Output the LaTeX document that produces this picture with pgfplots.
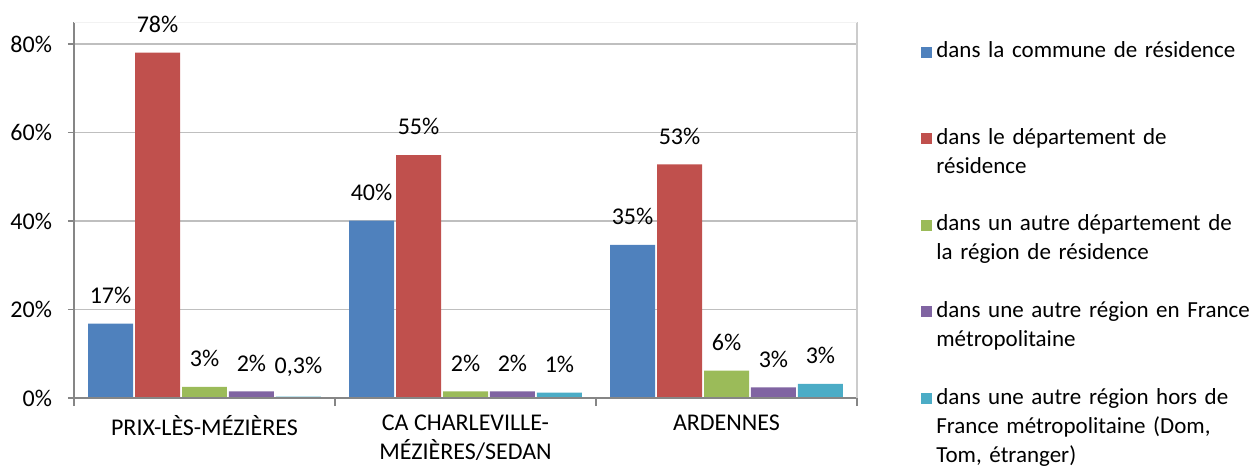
\documentclass[border=0pt]{standalone}
\usepackage{pgfplots}
\pgfplotsset{compat=1.18}
\usepackage{fontspec}
\setmainfont{Carlito}

\definecolor{cBlue}{HTML}{4F81BD}
\definecolor{cRed}{HTML}{C0504D}
\definecolor{cGreen}{HTML}{9BBB59}
\definecolor{cPurple}{HTML}{8064A2}
\definecolor{cCyan}{HTML}{4BACC6}
\definecolor{axisgray}{HTML}{868686}
\definecolor{gridgray}{HTML}{BFBFBF}

\newcommand{\ls}{\rule{0pt}{11pt}}

\begin{document}
\begin{tikzpicture}
\path[use as bounding box] (-37pt,-34.5pt) rectangle (591pt,199pt);
\begin{axis}[
    at={(0,0)}, anchor=south west,
    scale only axis,
    width=391.5pt, height=188pt,
    ybar, bar width=0.1724,
    xmin=-0.5, xmax=2.5,
    ymin=0, ymax=85,
    xtick={0,1,2},
    xticklabels={PRIX-LÈS-MÉZIÈRES, {CA CHARLEVILLE-\\MÉZIÈRES/SEDAN}, ARDENNES},
    xticklabel style={align=center, font=\fontsize{12}{14.5}\selectfont, yshift=-2pt},
    major x tick style={draw=none},
    minor xtick={-0.5,0.5,1.5,2.5},
    minor tick length=4pt,
    minor x tick style={axisgray, line width=0.8pt},
    ytick={0,20,40,60,80},
    yticklabels={0\%,20\%,40\%,60\%,80\%},
    yticklabel style={font=\fontsize{12}{14}\selectfont, xshift=-4.5pt},
    major y tick style={axisgray, line width=0.8pt},
    major tick length=3pt,
    tick align=outside,
    tick pos=left,
    ymajorgrids,
    grid style={gridgray, line width=0.8pt},
    axis line style={draw=none},
    point meta=explicit symbolic,
    nodes near coords,
    every node near coord/.append style={font=\fontsize{12}{14}\selectfont, anchor=south, yshift=6.5pt, black},
    legend style={at={(1.074,0.986)}, anchor=north west, draw=none, fill=none,
        font=\fontsize{11.5}{14.5}\selectfont, row sep=26.8pt,
        cells={anchor=base west, text width=170pt, align=left}},
    legend image code/.code={\fill[#1] (0pt,0pt) rectangle (5.5pt,5.5pt);},
    clip=false,
]
\addplot[fill=cBlue, draw=none, bar shift=-0.36] coordinates {(0,16.8)[17\%] (1,40.1)[40\%] (2,34.6)[35\%]};
\addplot[fill=cRed, draw=none, bar shift=-0.18] coordinates {(0,78.1)[78\%] (1,54.9)[55\%] (2,52.8)[53\%]};
\addplot[fill=cGreen, draw=none, bar shift=0] coordinates {(0,2.5)[3\%] (1,1.5)[2\%] (2,6.2)[6\%]};
\addplot[fill=cPurple, draw=none, bar shift=0.18] coordinates {(0,1.5)[2\%] (1,1.5)[2\%] (2,2.4)[3\%]};
\addplot[fill=cCyan, draw=none, bar shift=0.36] coordinates {(0,0.3)[0,3\%] (1,1.2)[1\%] (2,3.2)[3\%]};
\legend{{\ls dans la commune de résidence},
    {\ls dans le département de\\résidence},
    {\ls dans un autre département de\\la région de résidence},
    {\ls dans une autre région en France\\métropolitaine},
    {\ls dans une autre région hors de\\France métropolitaine (Dom,\\Tom, étranger)}}
\draw[axisgray, line width=0.9pt] (rel axis cs:0,1) -- (rel axis cs:0,0) -- (rel axis cs:1,0);
\draw[gridgray!80, line width=0.8pt] (rel axis cs:1,0) -- (rel axis cs:1,1);
\draw[gray!10, line width=0.5pt] (rel axis cs:0,1) -- (rel axis cs:1,1);
\end{axis}
\end{tikzpicture}
\end{document}
